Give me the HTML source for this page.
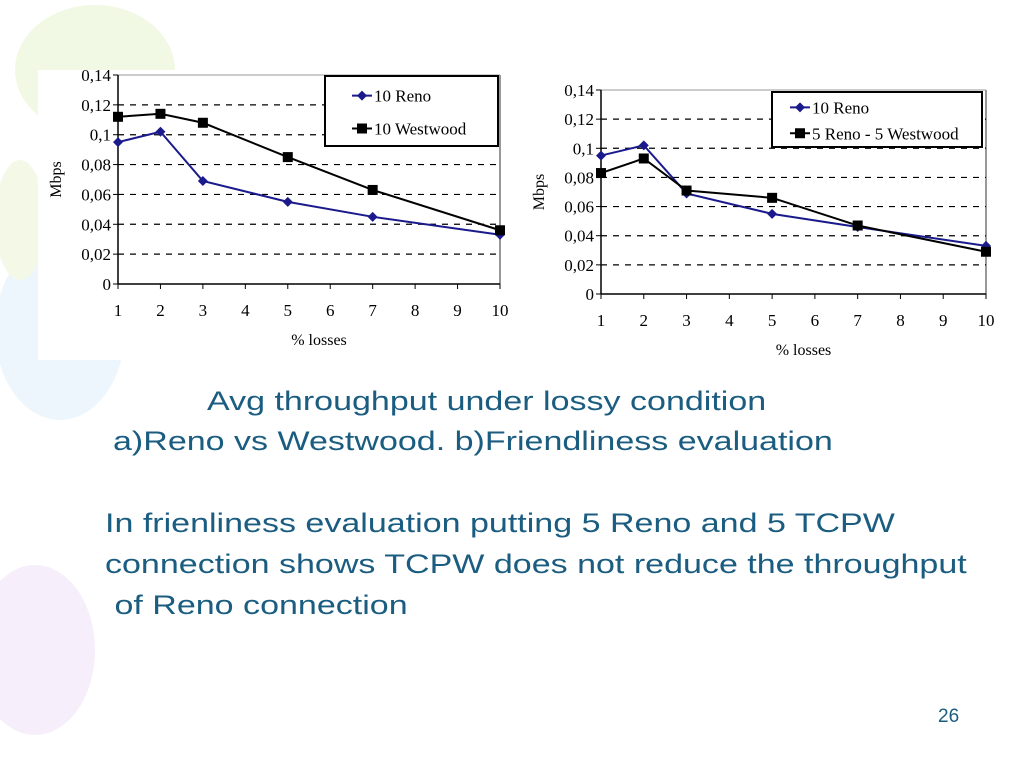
<!DOCTYPE html>
<html><head><meta charset="utf-8"><style>
body{margin:0;width:1024px;height:768px;overflow:hidden;background:#fff;font-family:"Liberation Sans",sans-serif;position:relative}
.t{position:absolute;color:#1b5d80;font-size:27px;white-space:nowrap;transform:scaleX(1.26);transform-origin:left top}
</style></head><body>
<svg width="1024" height="768" style="position:absolute;left:0;top:0">
<ellipse cx="95" cy="70" rx="80" ry="65" fill="#f1f8e4"/>
<ellipse cx="60" cy="330" rx="65" ry="90" fill="#edf6fc"/>
<ellipse cx="35" cy="650" rx="60" ry="85" fill="#f6eefa"/>
<ellipse cx="20" cy="220" rx="25" ry="60" fill="#f3f9e6"/>
</svg>
<svg id="c" width="1024" height="768" style="position:absolute;left:0;top:0" font-family="Liberation Serif, serif"></svg>
<div class="t" style="left:207px;top:386px">Avg throughput under lossy condition</div>
<div class="t" style="left:113px;top:426px">a)Reno vs Westwood. b)Friendliness evaluation</div>
<div class="t" style="left:105px;top:508px">In frienliness evaluation putting 5 Reno and 5 TCPW</div>
<div class="t" style="left:105px;top:549px">connection shows TCPW does not reduce the throughput</div>
<div class="t" style="left:105px;top:590px">&nbsp;of Reno connection</div>
<div class="t" style="left:938px;top:706px;font-size:19px;transform:none">26</div>
<script>
const categories=[1,2,3,4,5,6,7,8,9,10];
const xPoints=[1,2,3,5,7,10];
const yTicks=[0,0.02,0.04,0.06,0.08,0.1,0.12,0.14];
const yTickLabels=["0","0,02","0,04","0,06","0,08","0,1","0,12","0,14"];
const renoA=[0.095,0.102,0.069,0.055,0.045,0.033];
const westA=[0.112,0.114,0.108,0.085,0.063,0.036];
const renoB=[0.095,0.102,0.069,0.055,0.046,0.033];
const mixB=[0.083,0.093,0.071,0.066,0.047,0.029];
const namesA=["10 Reno","10 Westwood"];
const namesB=["10 Reno","5 Reno - 5 Westwood"];
const svg=document.getElementById('c');
const NS='http://www.w3.org/2000/svg';
function mk(tag,at,parent){const e=document.createElementNS(NS,tag);for(const k in at)e.setAttribute(k,at[k]);(parent||svg).appendChild(e);return e;}
function chart(cfg){
 const g=mk('g',{});
 
 
 mk('rect',{x:cfg.bg[0],y:cfg.bg[1],width:cfg.bg[2],height:cfg.bg[3],fill:'#fff'},g);
 const x=v=>cfg.x0+categories.indexOf(v)*(cfg.x1-cfg.x0)/(categories.length-1);
 const y=v=>cfg.y0-v/0.14*(cfg.y0-cfg.y1);
 mk('line',{x1:cfg.x1,y1:cfg.y1,x2:cfg.x1,y2:cfg.y0,stroke:'#999','stroke-width':2},g);
 mk('line',{x1:cfg.x0,y1:cfg.y1,x2:cfg.x1,y2:cfg.y1,stroke:'#999','stroke-width':1},g);
 yTicks.forEach((t,i)=>{
  if(i>0&&i<yTicks.length-1){const gl=mk('line',{x1:cfg.x0,y1:y(t),x2:cfg.x1,y2:y(t),stroke:'#000','stroke-dasharray':'6,6','stroke-width':1.2},g);
   }
  mk('line',{x1:cfg.x0-5,y1:y(t),x2:cfg.x0,y2:y(t),stroke:'#000'},g);
  const tx=mk('text',{x:cfg.x0-7,y:y(t)+6,'text-anchor':'end','font-size':17},g);tx.textContent=yTickLabels[i];
  
 });
 mk('line',{x1:cfg.x0,y1:cfg.y1,x2:cfg.x0,y2:cfg.y0,stroke:'#000','stroke-width':1.5},g);
 mk('line',{x1:cfg.x0,y1:cfg.y0,x2:cfg.x1,y2:cfg.y0,stroke:'#000','stroke-width':1.5},g);
 categories.forEach(c=>{
  mk('line',{x1:x(c),y1:cfg.y0,x2:x(c),y2:cfg.y0+5,stroke:'#000'},g);
  const tx=mk('text',{x:x(c),y:cfg.y0+32,'text-anchor':'middle','font-size':17},g);tx.textContent=c;
  
 });
 const xt=mk('text',{x:(cfg.x0+cfg.x1)/2+10,y:cfg.y0+61,'text-anchor':'middle','font-size':16},g);xt.textContent='% losses';
 
 const yt=mk('text',{x:0,y:0,'text-anchor':'middle','font-size':16,transform:`translate(${cfg.x0-57},${(cfg.y0+cfg.y1)/2}) rotate(-90)`},g);yt.textContent='Mbps';
 
 cfg.series.forEach((s,si)=>{
  const pl=mk('polyline',{points:xPoints.map((v,i)=>x(v)+','+y(s.vals[i])).join(' '),fill:'none',stroke:s.color,'stroke-width':2},g);
  
  xPoints.forEach((v,i)=>{
   let m;
   if(s.shape==='sq')m=mk('rect',{x:x(v)-5,y:y(s.vals[i])-5,width:10,height:10,fill:s.color},g);
   else m=mk('polygon',{points:`${x(v)},${y(s.vals[i])-5} ${x(v)+5},${y(s.vals[i])} ${x(v)},${y(s.vals[i])+5} ${x(v)-5},${y(s.vals[i])}`,fill:s.color},g);
   
  });
 });
 const L=cfg.legend;
 const lg=mk('g',{},g);
 
 mk('rect',{x:L[0],y:L[1],width:L[2],height:L[3],fill:'#fff',stroke:'#000','stroke-width':2},lg);
 cfg.series.forEach((s,si)=>{
  const ly=L[1]+L[3]*(si===0?0.28:0.75);
  const lx=L[0]+cfg.lx;
  mk('line',{x1:lx,y1:ly,x2:lx+20,y2:ly,stroke:s.color,'stroke-width':2},lg);
  if(s.shape==='sq')mk('rect',{x:lx+5,y:ly-5,width:10,height:10,fill:s.color},lg);
  else mk('polygon',{points:`${lx+10},${ly-5} ${lx+15},${ly} ${lx+10},${ly+5} ${lx+5},${ly}`,fill:s.color},lg);
  const tx=mk('text',{x:lx+22,y:ly+6,'font-size':17},lg);tx.textContent=s.name;
  
 });
}
chart({name:'chart-a',bg:[38,70,485,290],x0:118,x1:500,y0:284,y1:75,legend:[325,76,173,70],lx:27,
 series:[{vals:renoA,color:'#1a1a8c',shape:'d',name:namesA[0]},{vals:westA,color:'#000',shape:'sq',name:namesA[1]}]});
chart({name:'chart-b',bg:[540,82,470,285],x0:601,x1:986,y0:294,y1:90,legend:[772,92,210,55],lx:18,
 series:[{vals:renoB,color:'#1a1a8c',shape:'d',name:namesB[0]},{vals:mixB,color:'#000',shape:'sq',name:namesB[1]}]});
</script>
</body></html>
